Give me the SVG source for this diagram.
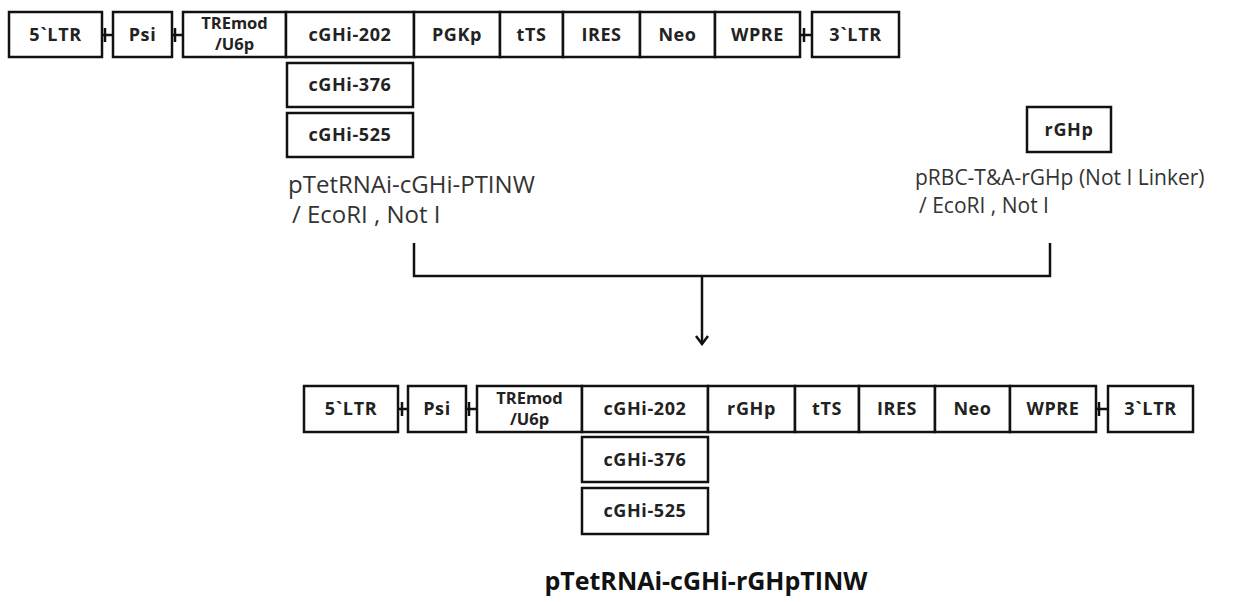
<svg xmlns="http://www.w3.org/2000/svg" width="1259" height="602" viewBox="0 0 1259 602">
<defs>
<style>
.b{fill:#fff;stroke:#111;stroke-width:2.5}
.l{font-family:"Open Sans","Noto Sans","DejaVu Sans",sans-serif;font-weight:bold;font-size:18px;letter-spacing:0.6px;fill:#222;text-anchor:middle}
.s{font-family:"Open Sans","Noto Sans","DejaVu Sans",sans-serif;font-weight:bold;font-size:16.5px;fill:#222;text-anchor:middle}
.d{font-family:"Open Sans","Noto Sans","DejaVu Sans",sans-serif;font-size:24px;fill:#333}
.e{font-family:"Open Sans","Noto Sans","DejaVu Sans",sans-serif;font-size:21px;fill:#333}
.t{font-family:"Open Sans","Noto Sans","DejaVu Sans",sans-serif;font-weight:bold;font-size:25px;fill:#111;text-anchor:middle}
.c{fill:none;stroke:#111;stroke-width:2.5}
</style>
<marker id="ah" viewBox="0 0 12 14" refX="10" refY="7" markerWidth="12" markerHeight="14" markerUnits="userSpaceOnUse" orient="auto">
<path d="M2,1 L10,7 L2,13" fill="none" stroke="#111" stroke-width="2.5"/>
</marker>
</defs>
<rect width="1259" height="602" fill="#fff"/>

<g id="connectors">
<path class="c" d="M102,35 H113 M105,28 V42"/>
<path class="c" d="M172,35 H183 M175,28 V42"/>
<path class="c" d="M800,35 H812 M804,28 V42"/>
<path class="c" d="M398,409 H408 M402,402 V416"/>
<path class="c" d="M466,409 H477 M469,402 V416"/>
<path class="c" d="M1096,409 H1108 M1099,402 V416"/>
<path class="c" d="M414,243 V276 H1050 V243"/>
<path class="c" d="M702,276 V344" marker-end="url(#ah)"/>
</g>

<g id="top-5LTR"><rect class="b" x="9" y="12" width="93" height="45"/><text class="l" x="55.5" y="41">5`LTR</text></g>
<g id="top-Psi"><rect class="b" x="113" y="12" width="59" height="45"/><text class="l" x="142.5" y="41">Psi</text></g>
<g id="top-TREmod"><rect class="b" x="183" y="12" width="103" height="45"/><text class="s" x="234.5" y="29">TREmod</text><text class="s" x="234.5" y="50">/U6p</text></g>
<g id="top-cGHi202"><rect class="b" x="286" y="12" width="128" height="45"/><text class="l" x="350" y="41">cGHi-202</text></g>
<g id="top-PGKp"><rect class="b" x="414" y="12" width="86" height="45"/><text class="l" x="457" y="41">PGKp</text></g>
<g id="top-tTS"><rect class="b" x="500" y="12" width="63" height="45"/><text class="l" x="531.5" y="41">tTS</text></g>
<g id="top-IRES"><rect class="b" x="563" y="12" width="77" height="45"/><text class="l" x="601.5" y="41">IRES</text></g>
<g id="top-Neo"><rect class="b" x="640" y="12" width="75" height="45"/><text class="l" x="677.5" y="41">Neo</text></g>
<g id="top-WPRE"><rect class="b" x="715" y="12" width="85" height="45"/><text class="l" x="757.5" y="41">WPRE</text></g>
<g id="top-3LTR"><rect class="b" x="812" y="12" width="87" height="45"/><text class="l" x="855.5" y="41">3`LTR</text></g>
<g id="top-cGHi376"><rect class="b" x="287" y="63" width="126" height="44"/><text class="l" x="350" y="91">cGHi-376</text></g>
<g id="top-cGHi525"><rect class="b" x="287" y="113" width="126" height="44"/><text class="l" x="350" y="141">cGHi-525</text></g>

<g id="label-left"><text class="d" x="288" y="193">pTetRNAi-cGHi-PTINW</text><text class="d" x="292" y="223">/ EcoRI , Not I</text></g>

<g id="rGHp-insert"><rect class="b" x="1027" y="107" width="84" height="45"/><text class="l" x="1069" y="136">rGHp</text></g>
<g id="label-right"><text class="e" x="915" y="185">pRBC-T&amp;A-rGHp (Not I Linker)</text><text class="e" x="919" y="213">/ EcoRI , Not I</text></g>

<g id="bot-5LTR"><rect class="b" x="304" y="386" width="94" height="46"/><text class="l" x="351" y="415">5`LTR</text></g>
<g id="bot-Psi"><rect class="b" x="408" y="386" width="58" height="46"/><text class="l" x="437" y="415">Psi</text></g>
<g id="bot-TREmod"><rect class="b" x="477" y="386" width="105" height="46"/><text class="s" x="529.5" y="404">TREmod</text><text class="s" x="529.5" y="425">/U6p</text></g>
<g id="bot-cGHi202"><rect class="b" x="582" y="386" width="126" height="46"/><text class="l" x="645" y="415">cGHi-202</text></g>
<g id="bot-rGHp"><rect class="b" x="708" y="386" width="87" height="46"/><text class="l" x="751.5" y="415">rGHp</text></g>
<g id="bot-tTS"><rect class="b" x="795" y="386" width="64" height="46"/><text class="l" x="827" y="415">tTS</text></g>
<g id="bot-IRES"><rect class="b" x="859" y="386" width="76" height="46"/><text class="l" x="897" y="415">IRES</text></g>
<g id="bot-Neo"><rect class="b" x="935" y="386" width="75" height="46"/><text class="l" x="972.5" y="415">Neo</text></g>
<g id="bot-WPRE"><rect class="b" x="1010" y="386" width="86" height="46"/><text class="l" x="1053" y="415">WPRE</text></g>
<g id="bot-3LTR"><rect class="b" x="1108" y="386" width="85" height="46"/><text class="l" x="1150.5" y="415">3`LTR</text></g>
<g id="bot-cGHi376"><rect class="b" x="582" y="437" width="126" height="45"/><text class="l" x="645" y="466">cGHi-376</text></g>
<g id="bot-cGHi525"><rect class="b" x="582" y="488" width="126" height="46"/><text class="l" x="645" y="517">cGHi-525</text></g>

<g id="title"><text class="t" x="706" y="590">pTetRNAi-cGHi-rGHpTINW</text></g>
</svg>
